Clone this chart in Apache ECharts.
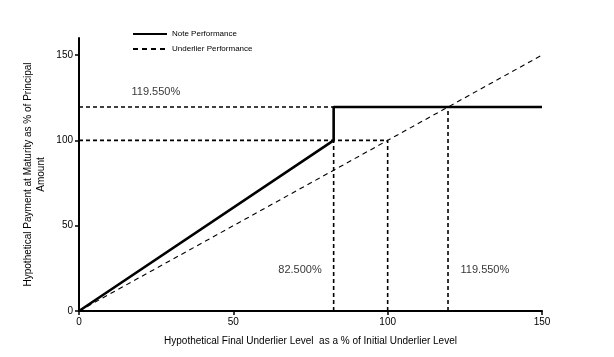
<!DOCTYPE html>
<html><head><meta charset="utf-8">
<script src="https://cdn.jsdelivr.net/npm/echarts@6/dist/echarts.min.js"></script>
<style>html,body{margin:0;padding:0;background:#fff}#c{width:614px;height:357px}</style>
</head><body><div id="c"></div>
<script>
const xTicks = [0, 50, 100, 150];
const yTicks = [0, 50, 100, 150];
const noteX = [0, 82.5, 82.5, 150];
const noteY = [0, 100, 119.55, 119.55];
const underX = [0, 150];
const underY = [0, 150];
// reference guide lines [x1,y1,x2,y2]
const guideH1 = [0, 119.55, 82.5, 119.55];
const guideH2 = [0, 100, 100, 100];
const guideV1 = [82.5, 0, 82.5, 100];
const guideV2 = [100, 0, 100, 100];
const guideV3 = [119.55, 0, 119.55, 119.55];
const labelText = ['119.550%', '82.500%', '119.550%'];
const labelX = [24.9, 71.6, 131.5];
const labelY = [128.4, 23.8, 23.8];

const font = 'Liberation Sans, Arial, sans-serif';
const zip = (xs, ys) => xs.map((x, i) => [x, ys[i]]);
const seg = g => [[g[0], g[1]], [g[2], g[3]]];
const guide = g => ({
  type: 'line', data: seg(g), symbol: 'none', silent: true,
  itemStyle: { color: '#000' },
  lineStyle: { color: '#000', width: 1.6, type: [4, 3] }, z: 1
});

const chart = echarts.init(document.getElementById('c'));
chart.setOption({
  animation: false,
  textStyle: { fontFamily: font },
  grid: { left: 79, right: 72, top: 38, bottom: 46, containLabel: false },
  legend: {
    orient: 'vertical', left: 127, top: 25, itemWidth: 34, itemHeight: 8, itemGap: 7,
    itemStyle: { opacity: 0 },
    textStyle: { fontSize: 8, color: '#000', fontFamily: font },
    data: ['Note Performance', 'Underlier Performance']
  },
  xAxis: {
    type: 'value', min: 0, max: 150, interval: 50,
    name: 'Hypothetical Final Underlier Level  as a % of Initial Underlier Level',
    nameLocation: 'middle', nameGap: 25, nameMoveOverlap: false,
    nameTextStyle: { fontSize: 10, color: '#000' },
    axisLine: { show: true, lineStyle: { color: '#000', width: 2 } },
    axisTick: { show: true, inside: false, length: 4, lineStyle: { color: '#000', width: 1.5 } },
    axisLabel: { fontSize: 10, color: '#000', margin: 6 },
    splitLine: { show: false }
  },
  yAxis: {
    type: 'value', min: 0, max: 160, interval: 50,
    name: 'Hypothetical Payment at Maturity as % of Principal\nAmount',
    nameLocation: 'middle', nameGap: 31, nameMoveOverlap: false,
    nameTextStyle: { fontSize: 10, color: '#000', lineHeight: 13 },
    axisLine: { show: true, lineStyle: { color: '#000', width: 2 } },
    axisTick: { show: true, inside: false, length: 4, lineStyle: { color: '#000', width: 1.5 } },
    axisLabel: { fontSize: 10, color: '#000', margin: 6, showMaxLabel: false },
    splitLine: { show: false }
  },
  series: [
    guide(guideH1), guide(guideH2), guide(guideV1), guide(guideV2), guide(guideV3),
    {
      name: 'Underlier Performance', type: 'line', data: zip(underX, underY), symbol: 'none',
      itemStyle: { color: '#000' },
      lineStyle: { color: '#000', width: 1.1, type: [5, 4] }, z: 2
    },
    {
      name: 'Note Performance', type: 'line', data: zip(noteX, noteY), symbol: 'none',
      itemStyle: { color: '#000' },
      lineStyle: { color: '#000', width: 2.6 }, z: 3
    },
    {
      type: 'scatter', symbolSize: 0, silent: true,
      data: labelText.map((t, i) => ({ value: [labelX[i], labelY[i]], name: t })),
      label: { show: true, position: 'inside', formatter: p => p.name, fontSize: 11, color: '#000', fontFamily: font }
    }
  ]
});
</script></body></html>
